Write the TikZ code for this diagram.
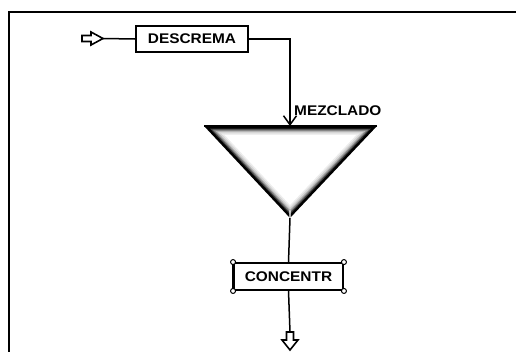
\documentclass[tikz,border=0pt]{standalone}
\usepackage{fontspec}
\newfontfamily\flowfont[FakeStretch=1.1]{Liberation Sans Bold}
\usetikzlibrary{arrows.meta,calc}
\tikzset{
  frame/.style={line width=2.4pt, black},
  flow/.style={line width=1.5pt, black},
  procbox/.style={draw, line width=1.9pt, rectangle, inner sep=0pt,
    font=\flowfont\fontsize{14}{14}\selectfont},
  handle/.style={draw, line width=1pt, fill=white, circle, inner sep=0pt, minimum size=5pt},
  blockarrow/.style={draw, line width=1.6pt, fill=white, line join=miter},
  flowlabel/.style={font=\flowfont\fontsize{14}{14}\selectfont, inner sep=0pt, anchor=west}
}
\begin{document}
\begin{tikzpicture}[x=1pt,y=-1pt]
\useasboundingbox (0,0) rectangle (516,351);
\begin{scope}
\clip (0,0) rectangle (516,351);
% outer frame (open to the right and bottom)
\draw[frame] (9,360) -- (9,12) -- (530,12);
\end{scope}

% process boxes
\node[procbox, minimum width=112pt, minimum height=26pt] (desc) at (192,39) {DESCREMA};
\node[procbox, minimum width=109pt, minimum height=27pt] (conc) at (288.5,276.5) {CONCENTR};
\draw[line width=2.6pt] (conc.north west) -- (conc.south west);
\foreach \c in {north west,south west,north east,south east}
  \node[handle] (h-\c) at (conc.\c) {};

% mixing tank: inverted triangle with dark shaded rim
\coordinate (mixtop) at (290,126);
\coordinate (mixtip) at (290,218);
\coordinate (tl) at (204,126);
\coordinate (tr) at (377,126);
\coordinate (inc) at (290.2,163.4);
\foreach \k/\col in {1.00/black, 0.93/black!75, 0.90/black!50,
                     0.87/black!30, 0.84/black!16, 0.80/black!7, 0.76/white}
  \fill[\col] ($(inc)!\k!(tl)$) -- ($(inc)!\k!(tr)$) -- ($(inc)!\k!(mixtip)$) -- cycle;
\draw[white, line width=1.2pt] (mixtip) -- ($(inc)!0.86!(mixtip)$);
\draw[line width=1.6pt] (tl) -- (tr);

% label of the mixing step
\node[flowlabel] (mezlabel) at (294,111) {MEZCLADO};

% input and output block arrows
\coordinate (inarrow) at (103,38.5);
\draw[blockarrow] (82,35.5) -- (91,35.5) -- (91,32) -- (inarrow) -- (91,45) -- (91,41.5) -- (82,41.5) -- cycle;
\coordinate (outarrow) at (290,332);
\draw[blockarrow] (286.5,332) -- (293.5,332) -- (293.5,340) -- (298,340) -- (290,350) -- (282,340) -- (286.5,340) -- cycle;

% connectors
\draw[flow] (inarrow) -- (desc.west);
\draw[flow, -{Straight Barb[length=9pt,width=13pt,line width=1.5pt]}] (desc.east) -| (mixtop);
\draw[flow] (mixtip) -- (conc.north);
\draw[flow] (conc.south) -- (outarrow);
\end{tikzpicture}
\end{document}
